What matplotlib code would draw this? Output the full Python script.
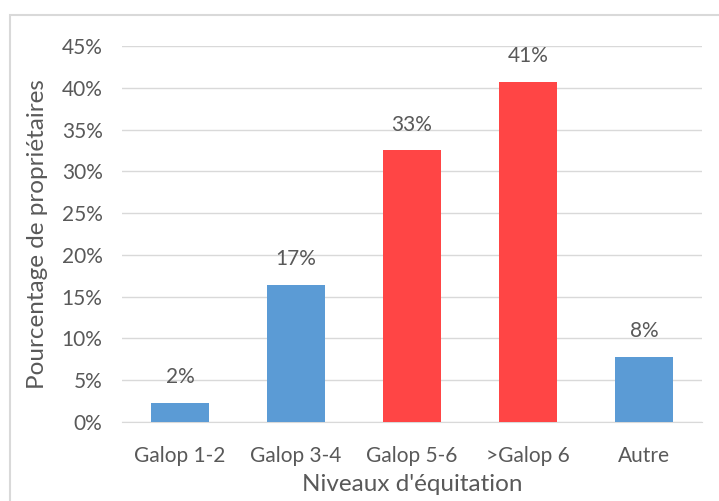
import matplotlib
matplotlib.use("Agg")
import matplotlib.pyplot as plt
from matplotlib.patches import Rectangle
from matplotlib.ticker import FuncFormatter

# Données
niveaux = ["Galop 1-2", "Galop 3-4", "Galop 5-6", ">Galop 6", "Autre"]
pourcentages = [2.3, 16.4, 32.5, 40.7, 7.8]
etiquettes = ["2%", "17%", "33%", "41%", "8%"]
couleurs = ["#5B9BD5", "#5B9BD5", "#FF4545", "#FF4545", "#5B9BD5"]

plt.rcParams["font.family"] = ["Lato", "DejaVu Sans"]
gris = "#595959"

fig = plt.figure(figsize=(7.19, 5.01), dpi=100)
ax = fig.add_axes([122 / 719, 1 - 422 / 501, 580 / 719, 376 / 501])

# cadre du graphique
fig.patches.append(Rectangle((10 / 719, -0.05), 1.0, 1 - 15 / 501 + 0.05,
                             transform=fig.transFigure, fill=False,
                             edgecolor="#D9D9D9", linewidth=1.5))

x = range(len(niveaux))
ax.bar(x, pourcentages, width=0.5, color=couleurs, zorder=3)
for xi, v, lab in zip(x, pourcentages, etiquettes):
    ax.text(xi, v + 1.9, lab, ha="center", va="bottom", fontsize=15, color=gris)

ax.set_xlim(-0.5, 4.5)
ax.set_ylim(0, 45)
ax.set_yticks(range(0, 46, 5))
ax.yaxis.set_major_formatter(FuncFormatter(lambda v, p: f"{v:.0f}%"))
ax.set_xticks(list(x))
ax.set_xticklabels(niveaux)
ax.grid(axis="y", color="#D9D9D9", linewidth=1, zorder=0)
for s in ["top", "right", "left"]:
    ax.spines[s].set_visible(False)
ax.spines["bottom"].set_color("#D9D9D9")
ax.tick_params(axis="both", length=0, labelsize=15, colors=gris)
ax.tick_params(axis="x", pad=17)
ax.tick_params(axis="y", pad=14)

ax.set_ylabel("Pourcentage de propriétaires", fontsize=17.5, color=gris, labelpad=10)
ax.set_xlabel("Niveaux d'équitation", fontsize=17.5, color=gris, labelpad=6)

fig.savefig("out.png", dpi=100)
